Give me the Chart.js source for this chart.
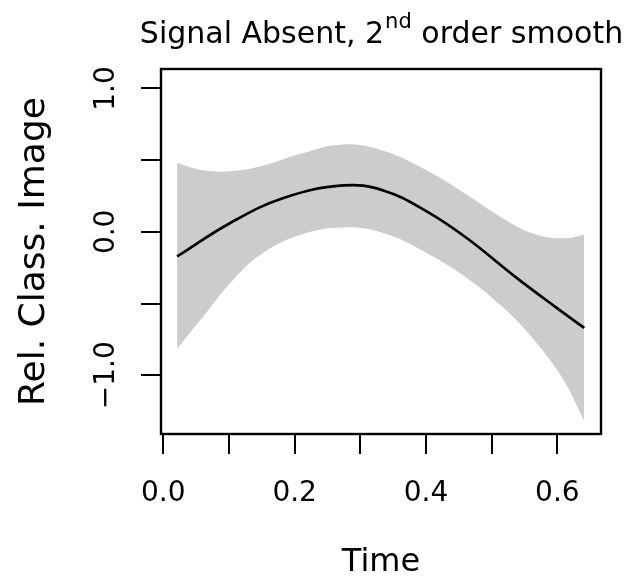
<!DOCTYPE html>
<html>
<head>
<meta charset="utf-8">
<script src="https://cdn.jsdelivr.net/npm/chart.js@4/dist/chart.umd.min.js"></script>
<style>
  html, body { margin: 0; padding: 0; background: #fff; }
  #wrap { width: 630px; height: 582px; }
</style>
</head>
<body>
<div id="wrap"><canvas id="grafico" width="630" height="582"></canvas></div>
<script>
// values
const fitTimes = [0.021, 0.102, 0.183, 0.274, 0.335, 0.401, 0.462, 0.538, 0.599, 0.641];
const fitted = [-0.171, 0.062, 0.236, 0.324, 0.289, 0.143, -0.043, -0.321, -0.530, -0.670];

const bandTimes = [0.021, 0.061, 0.102, 0.148, 0.209, 0.274, 0.335, 0.401, 0.462, 0.518, 0.564, 0.609, 0.641];
const upper = [0.480, 0.429, 0.422, 0.457, 0.545, 0.610, 0.566, 0.429, 0.259, 0.092, -0.013, -0.045, -0.020];
const lower = [-0.816, -0.589, -0.356, -0.159, -0.020, 0.031, -0.008, -0.147, -0.321, -0.530, -0.751, -1.030, -1.320];

const xTicks = [0, 0.1, 0.2, 0.3, 0.4, 0.5, 0.6];
const xTickLabels = ['0.0', '', '0.2', '', '0.4', '', '0.6'];
const yTicks = [-1, -0.5, 0, 0.5, 1];
const yTickLabels = ['\u22121.0', '', '0.0', '', '1.0'];

const FONT = '"DejaVu Sans", sans-serif';

const pts = (ts, ys) => ts.map((t, i) => ({ x: t, y: ys[i] }));

// title with superscript, and the box round the plot
const extras = {
  id: 'extras',
  afterDraw(chart) {
    const c = chart.ctx;
    const a = chart.chartArea;
    c.save();
    c.strokeStyle = '#000';
    c.lineWidth = 2.4;
    c.strokeRect(a.left, a.top, a.right - a.left, a.bottom - a.top);

    const big = '30px ' + FONT, small = '21px ' + FONT;
    const p1 = 'Signal Absent, 2', p2 = 'nd', p3 = ' order smooth';
    c.font = big; const w1 = c.measureText(p1).width, w3 = c.measureText(p3).width;
    c.font = small; const w2 = c.measureText(p2).width;
    let x = (a.left + a.right) / 2 - (w1 + w2 + w3) / 2;
    c.fillStyle = '#000';
    c.textBaseline = 'alphabetic';
    c.textAlign = 'left';
    c.font = big; c.fillText(p1, x, 43); x += w1;
    c.font = small; c.fillText(p2, x + 1, 28); x += w2 + 1;
    c.font = big; c.fillText(p3, x, 43);
    c.restore();
  }
};

new Chart(document.getElementById('grafico').getContext('2d'), {
  type: 'line',
  data: {
    datasets: [
      {
        label: 'fit',
        data: pts(fitTimes, fitted),
        borderColor: '#000',
        borderWidth: 2.7,
        pointRadius: 0,
        tension: 0.4,
        fill: false
      },
      {
        label: 'lower',
        data: pts(bandTimes, lower),
        borderWidth: 0,
        borderColor: 'rgba(0,0,0,0)',
        pointRadius: 0,
        tension: 0.4,
        fill: false
      },
      {
        label: 'upper',
        data: pts(bandTimes, upper),
        borderWidth: 0,
        borderColor: 'rgba(0,0,0,0)',
        backgroundColor: '#cccccc',
        pointRadius: 0,
        tension: 0.4,
        fill: '-1'
      }
    ]
  },
  options: {
    responsive: false,
    animation: false,
    layout: { padding: { top: 69, right: 29, left: 0, bottom: 0 } },
    plugins: {
      legend: { display: false },
      tooltip: { enabled: false }
    },
    scales: {
      x: {
        type: 'linear',
        min: -0.0035,
        max: 0.6665,
        afterBuildTicks: (s) => { s.ticks = xTicks.map(v => ({ value: v })); },
        afterFit: (s) => { s.height = 148; },
        border: { display: false },
        grid: { drawOnChartArea: false, drawTicks: true, tickLength: 20, color: '#000', lineWidth: 2 },
        ticks: {
          autoSkip: false,
          maxRotation: 0,
          padding: 23,
          color: '#000',
          font: { family: FONT, size: 28 },
          callback: (v, i) => xTickLabels[i]
        },
        title: {
          display: true,
          text: 'Time',
          color: '#000',
          font: { family: FONT, size: 32 },
          padding: { top: 0, bottom: 0 }
        }
      },
      y: {
        min: -1.41,
        max: 1.136,
        afterBuildTicks: (s) => { s.ticks = yTicks.map(v => ({ value: v })); },
        afterFit: (s) => { s.width = 161; },
        border: { display: false },
        grid: { drawOnChartArea: false, drawTicks: true, tickLength: 20, color: '#000', lineWidth: 2 },
        ticks: {
          autoSkip: false,
          minRotation: 90,
          maxRotation: 90,
          crossAlign: 'center',
          padding: 0,
          color: '#000',
          font: { family: FONT, size: 28 },
          callback: (v, i) => yTickLabels[i]
        },
        title: {
          display: true,
          text: 'Rel. Class. Image',
          color: '#000',
          font: { family: FONT, size: 36 },
          padding: { top: 13, bottom: 0 }
        }
      }
    }
  },
  plugins: [extras]
});
</script>
</body>
</html>
